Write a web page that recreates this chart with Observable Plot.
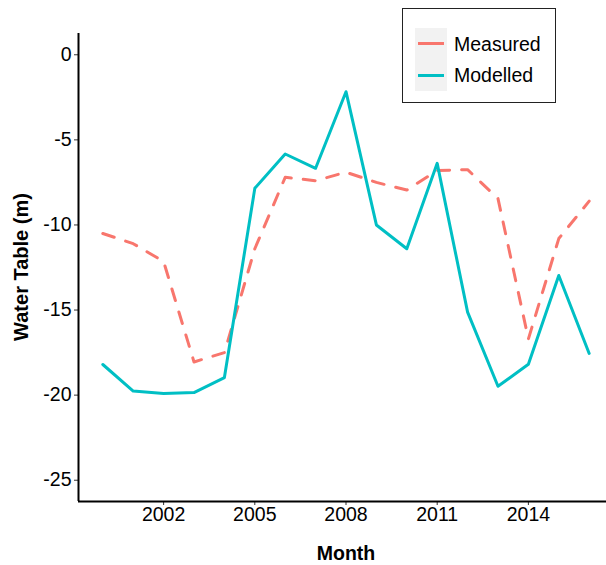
<!DOCTYPE html>
<html>
<head>
<meta charset="utf-8">
<script src="https://cdn.jsdelivr.net/npm/d3@7"></script>
<script src="https://cdn.jsdelivr.net/npm/@observablehq/plot@0.6"></script>
<style>
html, body { margin: 0; padding: 0; background: #fff; }
#chart { position: relative; width: 606px; height: 565px; overflow: hidden; font-family: "Liberation Sans", Arial, sans-serif; }
#chart svg { position: absolute; left: 0; top: 0; }
.abs { position: absolute; }
.legtext { font-size: 19.5px; line-height: 20px; color: #000; white-space: nowrap; }
</style>
</head>
<body>
<div id="chart"></div>
<script>
// ---- data ----
const years = [2000, 2001, 2002, 2003, 2004, 2005, 2006, 2007, 2008, 2009, 2010, 2011, 2012, 2013, 2014, 2015, 2016];
const measured = [-10.5, -11.1, -12.15, -18.05, -17.5, -11.4, -7.2, -7.4, -6.9, -7.5, -7.95, -6.8, -6.75, -8.45, -16.7, -10.8, -8.6];
const modelled = [-18.2, -19.76, -19.9, -19.85, -18.97, -7.85, -5.83, -6.67, -2.17, -10.0, -11.4, -6.38, -15.12, -19.48, -18.19, -12.97, -17.55];
const seriesNames = ["Measured", "Modelled"];
const seriesColors = ["#F8766D", "#00BFC4"];
const xTicks = [2002, 2005, 2008, 2011, 2014];
const yTicks = [0, -5, -10, -15, -20, -25];
const xTitle = "Month";
const yTitle = "Water Table (m)";

// ---- layout ----
const xDomain = [1999.2, 2016.8];
const yDomain = [-26.25, 1.25];
const font = '"Liberation Sans", Arial, sans-serif';

const rows = [];
years.forEach((year, i) => rows.push({year, value: measured[i], series: seriesNames[0]}));
years.forEach((year, i) => rows.push({year, value: modelled[i], series: seriesNames[1]}));

const plot = Plot.plot({
  width: 606,
  height: 565,
  marginLeft: 78,
  marginRight: 0,
  marginTop: 33,
  marginBottom: 64,
  style: {fontFamily: font, fontSize: "19.5px", color: "#000", background: "transparent", overflow: "visible"},
  x: {domain: xDomain, range: [78, 613]},
  y: {domain: yDomain},
  marks: [
    Plot.axisX({ticks: xTicks, tickFormat: d => String(d), tickSize: 4, tickPadding: 2, fontSize: 19.5, stroke: "#333", fill: "#000", label: null}),
    Plot.axisY({ticks: yTicks, tickFormat: d => String(d), tickSize: 4, tickPadding: 3, fontSize: 19.5, stroke: "#333", fill: "#000", label: null}),
    Plot.line(rows.filter(d => d.series === seriesNames[0]), {x: "year", y: "value", stroke: seriesColors[0], strokeWidth: 3, strokeDasharray: "12,12", strokeLinejoin: "round"}),
    Plot.line(rows.filter(d => d.series === seriesNames[1]), {x: "year", y: "value", stroke: seriesColors[1], strokeWidth: 3, strokeLinejoin: "round"}),
    Plot.ruleX([xDomain[0]], {stroke: "#000", strokeWidth: 2}),
    Plot.ruleY([yDomain[0]], {stroke: "#000", strokeWidth: 2})
  ]
});

const chart = document.getElementById("chart");
chart.appendChild(plot);

// axis titles
const svg = d3.select(plot);
svg.append("text")
  .attr("x", 346).attr("y", 560)
  .attr("text-anchor", "middle")
  .attr("font-family", font).attr("font-size", 19.5).attr("font-weight", "bold").attr("fill", "#000")
  .text(xTitle);
svg.append("text")
  .attr("transform", "translate(28,267) rotate(-90)")
  .attr("text-anchor", "middle")
  .attr("font-family", font).attr("font-size", 20).attr("font-weight", "bold").attr("fill", "#000")
  .text(yTitle);

// legend
const leg = d3.select(chart);
leg.append("div").attr("class", "abs")
  .style("left", "402px").style("top", "8px").style("width", "154px").style("height", "95px")
  .style("box-sizing", "border-box").style("border", "1px solid #222").style("background", "#fff");
leg.append("div").attr("class", "abs")
  .style("left", "415px").style("top", "28px").style("width", "32px").style("height", "63px")
  .style("background", "#f2f2f2");
seriesNames.forEach((name, i) => {
  leg.append("div").attr("class", "abs")
    .style("left", "418px").style("top", (42 + i * 31.5) + "px").style("width", "26px").style("height", "3px")
    .style("background", seriesColors[i]);
  leg.append("div").attr("class", "abs legtext")
    .style("left", "454px").style("top", (34 + i * 31) + "px")
    .text(name);
});
</script>
</body>
</html>
